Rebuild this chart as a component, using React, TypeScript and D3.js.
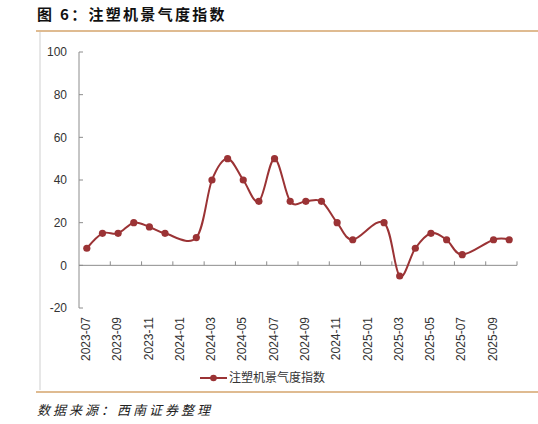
import * as d3 from "d3";

// monthly index, null = no reading that month
const months = [
  "2023-07", "2023-08", "2023-09", "2023-10", "2023-11", "2023-12",
  "2024-01", "2024-02", "2024-03", "2024-04", "2024-05", "2024-06",
  "2024-07", "2024-08", "2024-09", "2024-10", "2024-11", "2024-12",
  "2025-01", "2025-02", "2025-03", "2025-04", "2025-05", "2025-06",
  "2025-07", "2025-08", "2025-09", "2025-10",
];
const values: (number | null)[] = [
  8, 15, 15, 20, 18, 15,
  null, 13, 40, 50, 40, 30,
  50, 30, 30, 30, 20, 12,
  null, 20, -5, 8, 15, 12,
  5, null, 12, 12,
];
const yTicks = [-20, 0, 20, 40, 60, 80, 100];
const seriesName = "注塑机景气度指数";
const title = "图 6：注塑机景气度指数";
const source = "数据来源：西南证券整理";

const W = 538;
const H = 424;
const plot = { left: 79, right: 517, top: 52, bottom: 308 };
const lineColor = "#9b3335";
const axisColor = "#8c8c8c";
const tan = "#d4a56c";
const numFont = "'Liberation Sans', Arial, sans-serif";
const cjkFont = "'Noto Sans CJK SC', sans-serif";

export default function App() {
  const x = d3
    .scaleBand<string>()
    .domain(months)
    .range([plot.left, plot.right])
    .paddingInner(0)
    .paddingOuter(0);
  const y = d3.scaleLinear().domain([-20, 100]).range([plot.bottom, plot.top]);
  const cx = (m: string) => (x(m) ?? 0) + x.bandwidth() / 2;

  const pts = months
    .map((m, i) => ({ m, v: values[i] }))
    .filter((d) => d.v !== null) as { m: string; v: number }[];

  const line = d3
    .line<{ m: string; v: number }>()
    .x((d) => cx(d.m))
    .y((d) => y(d.v))
    .curve(d3.curveCardinal.tension(0));

  const tickBounds = months.map((_, i) => i).filter((i) => i % 2 === 0 && i > 0);

  return (
    <svg
      width={W}
      height={H}
      style={{ position: "absolute", left: 0, top: 0, background: "#fff" }}
    >
      <text
        x={37}
        y={20}
        fontFamily={cjkFont}
        fontWeight="bold"
        fontSize={15}
        letterSpacing={2.3}
        fill="#111"
      >
        {title}
      </text>
      <line x1={36} x2={W} y1={31} y2={31} stroke={tan} strokeWidth={1.5} />
      <line x1={40} x2={40} y1={32} y2={390} stroke="#cfcfcf" strokeWidth={1} />

      {/* y axis */}
      <line x1={plot.left} x2={plot.left} y1={y(100)} y2={y(-20)} stroke={axisColor} />
      {yTicks.map((t) => (
        <g key={t}>
          <line x1={plot.left} x2={plot.left + 4} y1={y(t)} y2={y(t)} stroke={axisColor} />
          <text
            x={67}
            y={y(t)}
            dy="0.35em"
            textAnchor="end"
            fontFamily={numFont}
            fontSize={12}
            fill="#333"
          >
            {t}
          </text>
        </g>
      ))}

      {/* x axis at zero */}
      <line x1={plot.left} x2={plot.right} y1={y(0)} y2={y(0)} stroke={axisColor} />
      {tickBounds.map((i) => (
        <line
          key={i}
          x1={x(months[i]) ?? 0}
          x2={x(months[i]) ?? 0}
          y1={y(0)}
          y2={y(0) - 4}
          stroke={axisColor}
        />
      ))}
      <line x1={plot.right} x2={plot.right} y1={y(0)} y2={y(0) - 4} stroke={axisColor} />
      {months
        .filter((_, i) => i % 2 === 0)
        .map((m) => (
          <text
            key={m}
            transform={`translate(${cx(m) - 1},317) rotate(-90)`}
            dy="0.35em"
            textAnchor="end"
            fontFamily={numFont}
            fontSize={12}
            fill="#333"
          >
            {m}
          </text>
        ))}

      {/* series */}
      <path d={line(pts) ?? ""} fill="none" stroke={lineColor} strokeWidth={2} />
      {pts.map((d) => (
        <circle key={d.m} cx={cx(d.m)} cy={y(d.v)} r={3.6} fill={lineColor} />
      ))}

      {/* legend */}
      <line x1={200} x2={227} y1={378} y2={378} stroke={lineColor} strokeWidth={2} />
      <circle cx={213.5} cy={378} r={3.3} fill={lineColor} />
      <text
        x={229}
        y={378}
        dy="0.35em"
        fontFamily={cjkFont}
        fontSize={12}
        fill="#333"
      >
        {seriesName}
      </text>

      <line x1={36} x2={W} y1={392} y2={392} stroke={tan} strokeWidth={1.5} />
      <text
        x={37}
        y={415}
        fontFamily={cjkFont}
        fontStyle="italic"
        fontSize={13}
        letterSpacing={3}
        fill="#222"
      >
        {source}
      </text>
    </svg>
  );
}
